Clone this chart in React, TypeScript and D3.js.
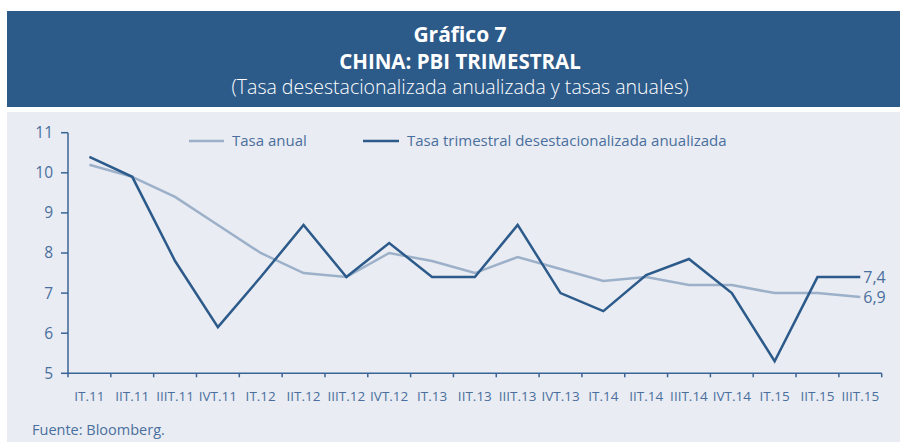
import React from "react";
import * as d3 from "d3";

const categories = [
  "IT.11", "IIT.11", "IIIT.11", "IVT.11",
  "IT.12", "IIT.12", "IIIT.12", "IVT.12",
  "IT.13", "IIT.13", "IIIT.13", "IVT.13",
  "IT.14", "IIT.14", "IIIT.14", "IVT.14",
  "IT.15", "IIT.15", "IIIT.15",
];

const tasaAnual = [
  10.2, 9.9, 9.4, 8.7,
  8.0, 7.5, 7.4, 8.0,
  7.8, 7.5, 7.9, 7.6,
  7.3, 7.4, 7.2, 7.2,
  7.0, 7.0, 6.9,
];

const tasaTrimestral = [
  10.4, 9.9, 7.8, 6.15,
  7.4, 8.7, 7.4, 8.25,
  7.4, 7.4, 8.7, 7.0,
  6.55, 7.45, 7.85, 7.0,
  5.3, 7.4, 7.4,
];

const yTicks = [5, 6, 7, 8, 9, 10, 11];

const title1 = "Gráfico 7";
const title2 = "CHINA: PBI TRIMESTRAL";
const subtitle = "(Tasa desestacionalizada anualizada y tasas anuales)";
const legendLabels = ["Tasa anual", "Tasa trimestral desestacionalizada anualizada"];
const endLabels = ["6,9", "7,4"];
const source = "Fuente: Bloomberg.";

const DARK = "#2c5a8a";
const LIGHT = "#9cb1c9";
const TEXT = "#4a6f9e";
const AXIS = "#3a6496";
const FONT = "'Open Sans', 'DejaVu Sans', sans-serif";

export default function App() {
  const W = 900;
  const H = 442;
  const x = d3.scaleBand<string>().domain(categories).range([68, 881.7]).paddingInner(0).paddingOuter(0);
  const y = d3.scaleLinear().domain([5, 11]).range([373.3, 132.7]);
  const cx = (c: string) => (x(c) as number) + x.bandwidth() / 2;

  const line = d3
    .line<number>()
    .x((_, i) => cx(categories[i]))
    .y((d) => y(d));

  const boundaries = [...categories.map((c) => x(c) as number), 881.7];
  const lastCat = categories[categories.length - 1];

  return (
    <svg
      width={W}
      height={H}
      viewBox={`0 0 ${W} ${H}`}
      style={{ position: "absolute", left: 0, top: 0, background: "#ffffff" }}
      fontFamily={FONT}
    >
      <rect x={7} y={11} width={893} height={96} fill="#2c5a89" />
      <text x={460} y={41.5} textAnchor="middle" fill="#fff" fontWeight={700} fontSize={21}>
        {title1}
      </text>
      <text x={460} y={68.5} textAnchor="middle" fill="#fff" fontWeight={700} fontSize={20.5}>
        {title2}
      </text>
      <text x={460} y={93.5} textAnchor="middle" fill="#fff" fontWeight={300} fontSize={19.5}>
        {subtitle}
      </text>

      <rect x={7} y={112} width={893} height={330} fill="#e9ecf2" />

      {/* legend */}
      <line x1={189} x2={224} y1={141} y2={141} stroke={LIGHT} strokeWidth={2.5} />
      <text x={232} y={145.5} fill={TEXT} fontSize={15}>
        {legendLabels[0]}
      </text>
      <line x1={363} x2={399} y1={141} y2={141} stroke={DARK} strokeWidth={2.5} />
      <text x={407} y={145.5} fill={TEXT} fontSize={15}>
        {legendLabels[1]}
      </text>

      {/* y axis */}
      <line x1={68} x2={68} y1={y(11)} y2={y(5)} stroke={AXIS} strokeWidth={1.5} />
      {yTicks.map((t) => (
        <g key={t}>
          <line x1={61} x2={68} y1={y(t)} y2={y(t)} stroke={AXIS} strokeWidth={1.5} />
          <text x={53} y={y(t)} dy="0.35em" textAnchor="end" fill={TEXT} fontSize={15.5}>
            {t}
          </text>
        </g>
      ))}

      {/* x axis */}
      <line x1={68} x2={881.7} y1={y(5)} y2={y(5)} stroke={AXIS} strokeWidth={1.5} />
      {boundaries.map((b, i) => (
        <line key={i} x1={b} x2={b} y1={y(5)} y2={y(5) + 4} stroke={AXIS} strokeWidth={1.5} />
      ))}
      {categories.map((c) => (
        <text key={c} x={cx(c)} y={401} textAnchor="middle" fill={TEXT} fontSize={13.5}>
          {c}
        </text>
      ))}

      {/* series */}
      <path d={line(tasaAnual) || ""} fill="none" stroke={LIGHT} strokeWidth={2.5} strokeLinejoin="miter" />
      <path d={line(tasaTrimestral) || ""} fill="none" stroke={DARK} strokeWidth={2.5} strokeLinejoin="miter" />

      {/* end labels */}
      <text x={cx(lastCat) + 3} y={y(tasaTrimestral[tasaTrimestral.length - 1])} dy="0.35em" fill={TEXT} fontSize={16}>
        {endLabels[1]}
      </text>
      <text x={cx(lastCat) + 3} y={y(tasaAnual[tasaAnual.length - 1])} dy="0.35em" fill={TEXT} fontSize={16}>
        {endLabels[0]}
      </text>

      <text x={32} y={434.5} fill={TEXT} fontSize={14.5}>
        {source}
      </text>
    </svg>
  );
}
